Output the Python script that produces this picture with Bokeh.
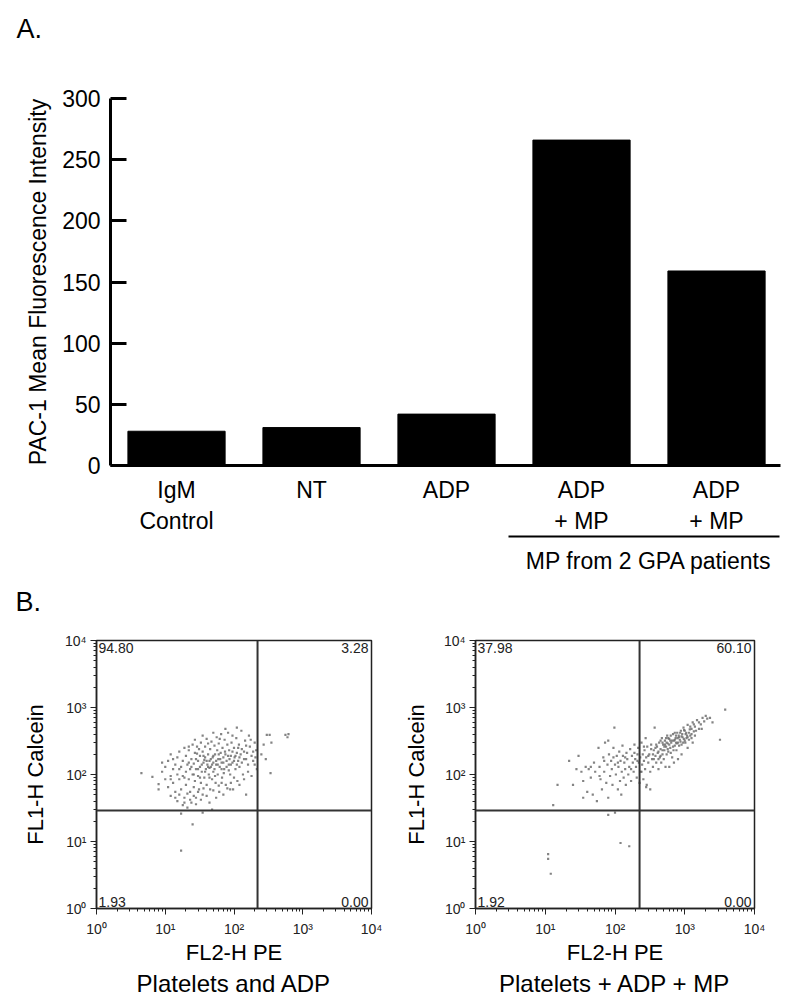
from bokeh.plotting import figure
from bokeh.models import LinearAxis, FixedTicker, Span, Range1d, Title
from bokeh.layouts import column, row
from bokeh.embed import file_html
from bokeh.resources import INLINE
from bokeh.core.properties import value

FONT = "Liberation Sans"

# ---------------- Panel A data ----------------
categories = ["IgM\nControl", "NT", "ADP", "ADP\n+ MP", "ADP\n+ MP"]
bar_pos = [1, 2, 3, 4, 5]
mfi = [28, 31, 42, 266, 159]
y_ticks = [0, 50, 100, 150, 200, 250, 300]
group_label = "MP from 2 GPA patients"
group_members = [4, 5]

# ---------------- Panel B data ----------------
log_ticks = [1, 10, 100, 1000, 10000]
log_tick_labels = ["10\u2070", "10\u00b9", "10\u00b2", "10\u00b3", "10\u2074"]
adp_gate = [220, 29]     # FL2, FL1 quadrant gate
mp_gate = [225, 29]
adp_quadrants = ["94.80", "3.28", "1.93", "0.00"]   # UL, UR, LL, LR
mp_quadrants = ["37.98", "60.10", "1.92", "0.00"]

adp_points = [
    (4.5, 105), (6.5, 92), (8, 60), (8, 72), (9, 150), (9, 110), (10, 85), (10, 130), (11, 65), (11, 160),
    (12, 95), (12, 48), (12, 200), (13, 120), (13, 75), (14, 55), (14, 140), (15, 180), (15, 100), (15, 40),
    (16, 85), (16, 220), (17, 130), (17, 60), (18, 35), (18, 160), (18, 95), (19, 250), (19, 45), (20, 110),
    (20, 70), (20, 190), (21, 140), (21, 32), (22, 85), (22, 230), (23, 55), (23, 120), (24, 170), (24, 38),
    (25, 100), (25, 280), (26, 65), (26, 145), (27, 210), (27, 80), (28, 120), (28, 45), (29, 260), (30, 95),
    (30, 160), (31, 60), (32, 190), (32, 130), (33, 300), (33, 75), (34, 110), (35, 220), (35, 50), (36, 150),
    (37, 90), (38, 180), (38, 260), (39, 120), (40, 70), (40, 340), (41, 140), (42, 200), (43, 100), (44, 160),
    (45, 60), (45, 240), (46, 130), (47, 310), (48, 85), (49, 180), (50, 150), (50, 110), (52, 270), (53, 200),
    (54, 75), (55, 140), (56, 360), (57, 230), (58, 100), (59, 170), (60, 290), (61, 55), (62, 130), (64, 210),
    (65, 400), (66, 150), (67, 90), (68, 250), (70, 180), (72, 120), (73, 330), (75, 200), (76, 70), (78, 160),
    (80, 280), (82, 420), (84, 140), (85, 230), (88, 100), (90, 190), (92, 300), (95, 150), (97, 60), (100, 250),
    (102, 180), (105, 120), (108, 350), (110, 210), (112, 80), (115, 160), (118, 280), (120, 130), (125, 200),
    (128, 450), (130, 240), (135, 100), (140, 170), (145, 320), (150, 50), (155, 210), (160, 140), (165, 380),
    (170, 260), (180, 190), (190, 160), (200, 300), (210, 230), (215, 120),
    (22, 150), (24, 130), (26, 100), (28, 170), (30, 120), (32, 90), (34, 140), (36, 190), (38, 110), (40, 160),
    (42, 130), (44, 90), (46, 170), (48, 140), (50, 190), (52, 120), (55, 160), (58, 140), (60, 200), (63, 170),
    (66, 120), (70, 150), (74, 220), (78, 130), (82, 190), (86, 170), (90, 140), (95, 220), (100, 160),
    (105, 190), (110, 140), (115, 250), (120, 180), (130, 150), (140, 220), (150, 170),
    (14, 45), (16, 50), (19, 38), (21, 52), (23, 42), (26, 48), (28, 36), (30, 55), (33, 42), (36, 62),
    (40, 48), (44, 38), (50, 58), (55, 45), (60, 68), (70, 50), (80, 62), (90, 75), (100, 90), (120, 70),
    (140, 85), (160, 110), (180, 95), (200, 140), (12, 85), (13, 170), (16, 120), (19, 90), (22, 260),
    (27, 330), (31, 240), (35, 380), (42, 290), (50, 420), (62, 340), (75, 480), (95, 380), (110, 500),
    (150, 270), (175, 330), (190, 220), (205, 180), (88, 60), (66, 75), (44, 125), (37, 165), (29, 205),
    (53, 95), (71, 105), (84, 115),
    (250, 200), (270, 280), (290, 170), (300, 390), (330, 390), (350, 300), (340, 105), (560, 390), (600, 360),
    (620, 400), (17, 26), (25, 18), (35, 27), (48, 30), (17, 7.3),
]

mp_points = [
    (13, 35), (15, 70), (22, 160), (25, 70), (30, 190), (33, 110), (35, 45), (38, 130), (40, 55), (42, 120),
    (45, 90), (48, 50), (50, 150), (52, 110), (55, 40), (58, 250), (60, 130), (62, 85), (65, 60), (68, 180),
    (70, 110), (72, 300), (75, 75), (78, 140), (80, 45), (80, 320), (82, 200), (85, 95), (88, 160), (90, 120),
    (92, 70), (95, 250), (98, 500), (100, 140), (103, 100), (106, 190), (110, 60), (112, 130), (115, 220),
    (118, 80), (120, 160), (123, 50), (125, 110), (128, 270), (130, 190), (133, 90), (136, 150), (140, 120),
    (143, 70), (146, 210), (150, 170), (155, 100), (160, 130), (165, 240), (170, 80), (175, 190), (180, 150),
    (185, 110), (190, 280), (195, 170), (200, 130), (205, 90), (210, 200), (215, 250), (220, 150), (225, 75),
    (230, 180), (235, 110), (240, 300), (245, 140), (250, 200), (255, 85), (260, 160), (265, 230), (270, 120),
    (275, 350), (280, 180), (285, 70), (290, 260), (300, 150), (310, 200), (320, 110), (330, 280), (340, 170),
    (350, 130), (360, 230), (370, 500), (380, 190), (390, 150), (400, 260), (410, 210), (420, 120), (430, 300),
    (440, 180), (450, 240), (460, 150), (470, 350), (480, 200), (490, 280), (500, 170), (510, 230), (520, 320),
    (530, 130), (540, 260), (550, 200), (560, 380), (570, 290), (580, 220), (600, 340), (620, 250), (640, 300),
    (660, 180), (680, 400), (700, 320), (720, 270), (740, 350), (760, 230), (780, 420), (800, 300), (820, 380),
    (850, 330), (880, 450), (900, 280), (930, 360), (960, 500), (1000, 320), (1030, 400), (1060, 350),
    (1100, 550), (1150, 420), (1200, 380), (1250, 480), (1300, 600), (1350, 440), (1400, 520), (1500, 650),
    (1600, 480), (1700, 560), (1800, 700), (1900, 620), (2100, 680), (2500, 600), (3200, 330), (3800, 930),
    (1100, 250), (900, 200), (700, 150), (600, 130), (800, 170), (1300, 300),
    (450, 320), (520, 280), (580, 350), (630, 210), (680, 260), (720, 330), (770, 290), (830, 360), (870, 310),
    (920, 400), (970, 340), (1020, 300), (1080, 380), (1150, 330), (1250, 400), (1400, 380), (350, 200),
    (380, 250), (420, 170), (480, 230), (550, 300), (620, 320), (750, 380), (980, 460), (1200, 520),
    (300, 190), (330, 240), (360, 170), (390, 280), (420, 220), (450, 190), (480, 300), (510, 260), (540, 350),
    (570, 240), (600, 280), (630, 380), (660, 320), (690, 230), (720, 420), (750, 300), (790, 350), (830, 270),
    (860, 420), (900, 370), (950, 300), (1000, 450), (1050, 420), (1100, 360), (1180, 470), (1250, 350),
    (1350, 560), (1450, 450), (1600, 600), (1750, 480), (2000, 750), (2300, 700), (170, 120), (190, 210),
    (210, 160), (240, 110), (260, 260), (140, 180), (110, 150), (95, 180), (70, 160), (60, 95), (45, 130),
    (35, 80), (28, 120),
    (11, 6.5), (11, 5.5), (12, 3.3), (120, 9.5), (160, 8.5), (80, 25), (280, 65), (320, 60), (100, 27),
]


# ======================= Panel letters (header strips) =======================
def header(letter, height, left, center):
    h = figure(width=800, height=height, x_range=Range1d(0, 800), y_range=Range1d(0, height),
               output_backend="svg", toolbar_location=None, min_border=0,
               min_border_left=0, min_border_right=0, min_border_top=0, min_border_bottom=0,
               frame_align=False, outline_line_color=None)
    h.axis.visible = False
    h.grid.visible = False
    h.text(x=[left], y=[center], text=[letter], text_baseline="middle", text_align="left",
           text_font=value(FONT), text_font_size="27px", text_color="black")
    return h


hA = header("A.", 50, 16, 22)
hB = header("B.", 40, 15, 19)

# ======================= Panel A =======================
xA = Range1d(0.511, 5.474)
yA = Range1d(0, 300)
pA = figure(width=800, height=530, x_range=xA, y_range=yA,
            output_backend="svg", toolbar_location=None,
            min_border_left=110, min_border_right=20, min_border_top=48, min_border_bottom=115,
            outline_line_color=None)
pA.xgrid.visible = False
pA.ygrid.visible = False
pA.vbar(x=bar_pos, top=mfi, width=0.72, fill_color="black", line_color="black")

xa = pA.xaxis[0]
xa.ticker = FixedTicker(ticks=bar_pos)
xa.major_label_overrides = {p: c for p, c in zip(bar_pos, categories)}
xa.major_tick_in = 0
xa.major_tick_out = 0
xa.minor_tick_in = 0
xa.minor_tick_out = 0
xa.axis_line_width = 3
xa.axis_line_color = "black"
xa.major_label_standoff = 11
xa.major_label_text_font = FONT
xa.major_label_text_font_size = "23px"
xa.major_label_text_color = "black"

ya = pA.yaxis[0]
ya.ticker = FixedTicker(ticks=y_ticks)
ya.major_tick_in = 16
ya.major_tick_out = 0
ya.minor_tick_in = 0
ya.minor_tick_out = 0
ya.major_tick_line_width = 3
ya.major_tick_line_color = "black"
ya.axis_line_width = 3
ya.axis_line_color = "black"
ya.major_label_standoff = 10
ya.major_label_text_font = FONT
ya.major_label_text_font_size = "23px"
ya.major_label_text_color = "black"
ya.axis_label = "PAC-1 Mean Fluorescence Intensity"
ya.axis_label_text_font = FONT
ya.axis_label_text_font_size = "23px"
ya.axis_label_text_font_style = "normal"
ya.axis_label_text_color = "black"
ya.axis_label_standoff = 8

grp_center = sum(group_members) / len(group_members)
grp_axis = LinearAxis(bounds=(min(group_members) - 0.54, max(group_members) + 0.47),
                      ticker=FixedTicker(ticks=[grp_center]),
                      major_label_overrides={grp_center: group_label},
                      major_tick_in=0, major_tick_out=0, minor_tick_in=0, minor_tick_out=0,
                      axis_line_width=2, axis_line_color="black",
                      major_label_standoff=11, major_label_text_font=FONT,
                      major_label_text_font_size="23px", major_label_text_color="black")
pA.add_layout(grp_axis, "below")


# ======================= Panel B =======================
def flow_plot(points, gate, quads, ylabel_title, bottom_title, left, right, ylab_standoff, bt_offset=0):
    xr = Range1d(1, 1e4)
    yr = Range1d(1, 1e4)
    p = figure(width=400, height=386, x_axis_type="log", y_axis_type="log",
               x_range=xr, y_range=yr,
               output_backend="svg", toolbar_location=None,
               min_border_left=left, min_border_right=right, min_border_top=20, min_border_bottom=98,
               outline_line_color="#222222", outline_line_width=1.5)
    p.xgrid.visible = False
    p.ygrid.visible = False
    xs = [pt[0] for pt in points]
    ys = [pt[1] for pt in points]
    p.scatter(xs, ys, marker="square", size=2.2, fill_color="#6e6e6e", line_color=None, fill_alpha=0.85)
    p.add_layout(Span(location=gate[0], dimension="height", line_color="#333333", line_width=2))
    p.add_layout(Span(location=gate[1], dimension="width", line_color="#333333", line_width=2))

    corner = [(xr.start, yr.end, "left", "top", 2, 2), (xr.end, yr.end, "right", "top", -3, 2),
              (xr.start, yr.start, "left", "bottom", 2, -2), (xr.end, yr.start, "right", "bottom", -3, -2)]
    for q, (cx, cy, ta, tb, dx, dy) in zip(quads, corner):
        p.text(x=[cx], y=[cy], text=[q], text_align=ta, text_baseline=tb, x_offset=dx, y_offset=dy,
               text_font=value(FONT), text_font_size="14px", text_color="#222222")

    for ax in (p.xaxis[0], p.yaxis[0]):
        ax.major_label_overrides = {t: l for t, l in zip(log_ticks, log_tick_labels)}
        ax.major_tick_in = 0
        ax.major_tick_out = 6
        ax.minor_tick_in = 0
        ax.minor_tick_out = 3
        ax.axis_line_color = "#222222"
        ax.axis_line_width = 1.5
        ax.major_tick_line_color = "#222222"
        ax.minor_tick_line_color = "#222222"
        ax.major_label_text_font = FONT
        ax.major_label_text_font_size = "14px"
        ax.major_label_text_color = "#222222"
        ax.major_label_standoff = 4
        ax.axis_label_text_font = FONT
        ax.axis_label_text_font_size = "22px"
        ax.axis_label_text_font_style = "normal"
        ax.axis_label_text_color = "black"
    p.xaxis[0].major_label_standoff = 6
    p.xaxis[0].axis_label = "FL2-H PE"
    p.xaxis[0].axis_label_standoff = 0
    p.yaxis[0].axis_label = ylabel_title
    p.yaxis[0].axis_label_standoff = ylab_standoff

    bt = Title(text=bottom_title, align="center", text_font=FONT, text_font_size="24px",
               text_font_style="normal", text_color="black", standoff=0, offset=bt_offset)
    p.add_layout(bt, "below")
    return p


pB1 = flow_plot(adp_points, adp_gate, adp_quadrants, "FL1-H Calcein", "Platelets and ADP",
                left=96, right=29, ylab_standoff=14, bt_offset=8)
pB2 = flow_plot(mp_points, mp_gate, mp_quadrants, "FL1-H Calcein", "Platelets + ADP + MP",
                left=72, right=46, ylab_standoff=12, bt_offset=5)

layout = column(hA, pA, hB, row(pB1, pB2))
open("out.html", "w").write(file_html(layout, INLINE))
